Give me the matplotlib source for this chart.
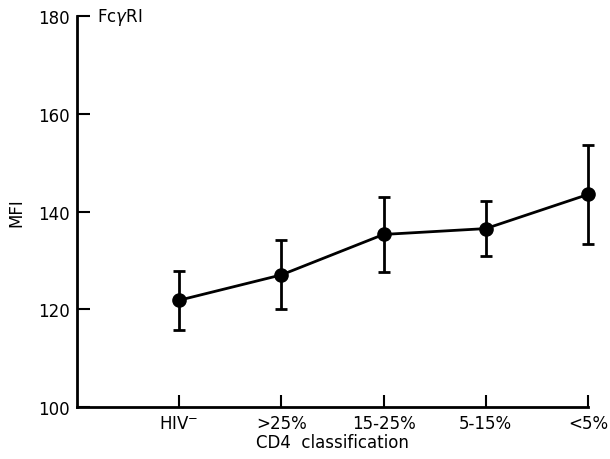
import matplotlib
matplotlib.use("Agg")
import matplotlib.pyplot as plt

# CD4 groups and mean fluorescence
groups = ["HIV$^{-}$", ">25%", "15-25%", "5-15%", "<5%"]
mfi = [121.8, 127.0, 135.3, 136.5, 143.5]
err_hi = [127.8, 134.2, 142.9, 142.2, 153.6]
err_lo = [115.6, 120.0, 127.6, 130.8, 133.3]

pos = list(range(len(groups)))
yerr = [[m - lo for m, lo in zip(mfi, err_lo)],
        [hi - m for m, hi in zip(mfi, err_hi)]]

fig = plt.figure(figsize=(6.1, 4.6), dpi=100)
ax = fig.add_axes([0.126, 0.114, 0.838, 0.848])

eb = ax.errorbar(pos, mfi, yerr=yerr, color="black", lw=2, marker="o",
                 markersize=9.5, capsize=4.3, capthick=2, elinewidth=2)
# don't let the last point/bar get cut at the axis edge
for art in eb.get_children():
    art.set_clip_on(False)
eb.lines[0].set_clip_on(False)
for c in eb.lines[1]:
    c.set_clip_on(False)
for b in eb.lines[2]:
    b.set_clip_on(False)

ax.set_xlim(-1, 4)
ax.set_ylim(100, 180)
ax.set_xticks(pos)
ax.set_xticklabels(groups)
ax.set_yticks([100, 120, 140, 160, 180])

for s in ["top", "right"]:
    ax.spines[s].set_visible(False)
for s in ["left", "bottom"]:
    ax.spines[s].set_linewidth(2)

ax.tick_params(direction="in", length=9, width=1.5, labelsize=12, pad=5)

ax.set_xlabel("CD4  classification", fontsize=12, labelpad=1)
ax.set_ylabel("MFI", fontsize=12, labelpad=9)
ax.text(0.04, 1.0, "Fc$\\gamma$RI", transform=ax.transAxes,
        fontsize=12, va="center", ha="left")

fig.savefig("out.png", dpi=100)
